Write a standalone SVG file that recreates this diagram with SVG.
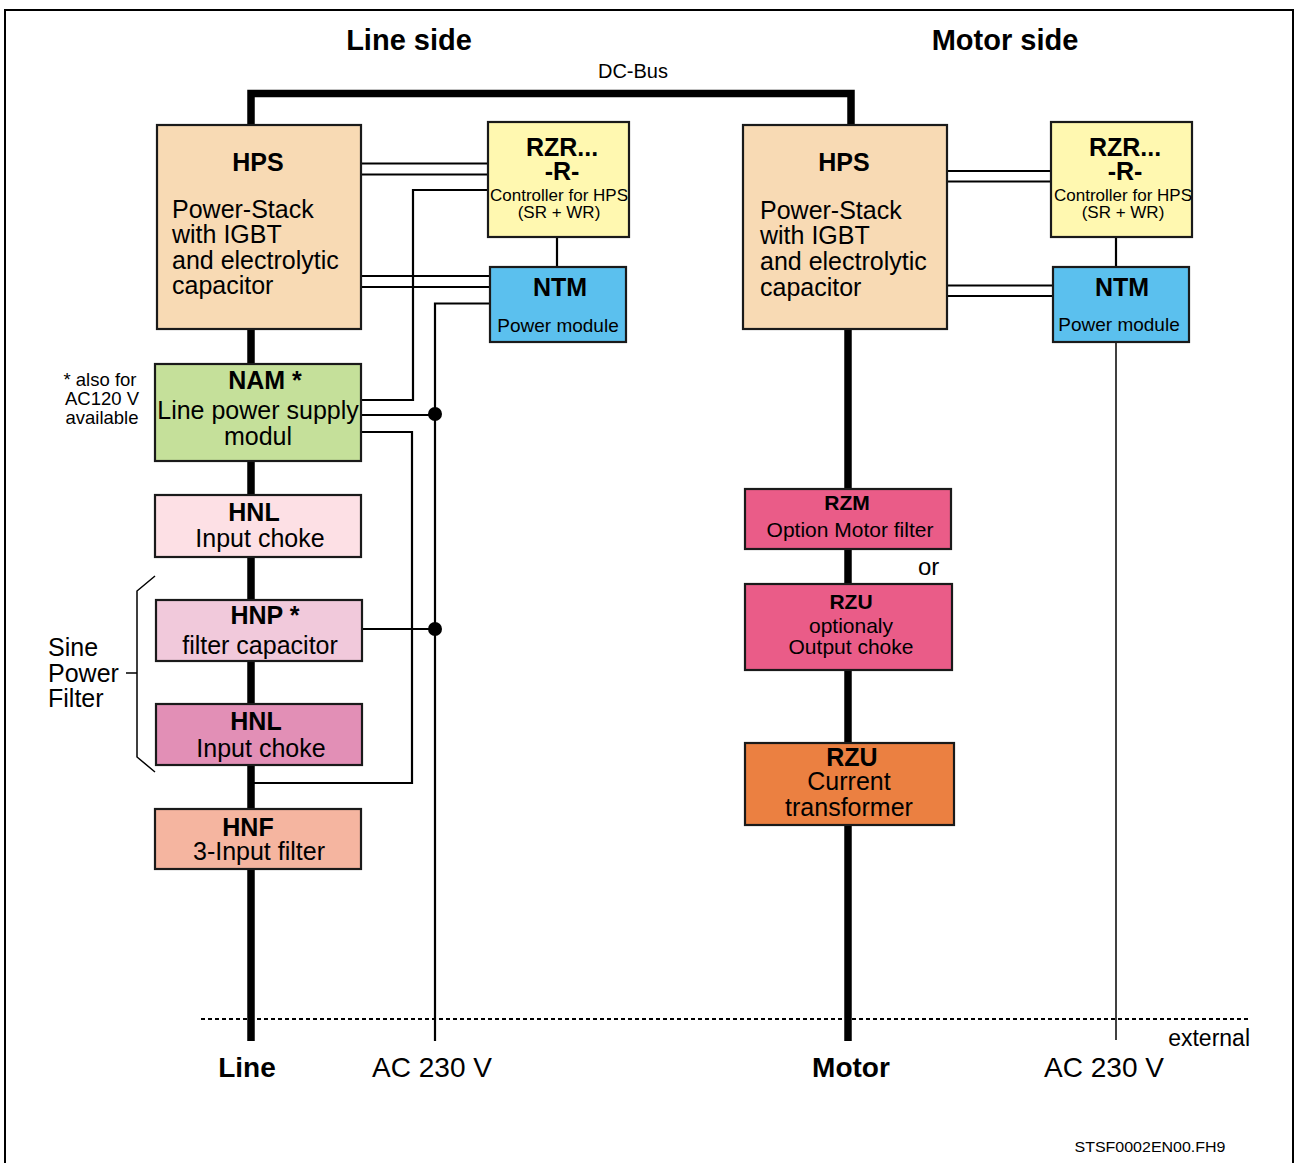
<svg xmlns="http://www.w3.org/2000/svg" width="1295" height="1163" viewBox="0 0 1295 1163">
<style>
text{font-family:"Liberation Sans",Arial,sans-serif;fill:#000}
.b{font-weight:bold}
.m{text-anchor:middle}
.box{stroke:#1a1a1a;stroke-width:2.2}
.bus{stroke:#000;stroke-width:7.5;fill:none}
.w{stroke:#000;stroke-width:2.2;fill:none}
.t{stroke:#000;stroke-width:1.5;fill:none}
</style>
<rect width="1295" height="1163" fill="#fff"/>
<rect x="5" y="10" width="1288" height="1180" fill="none" stroke="#000" stroke-width="2"/>
<text x="409" y="50" class="b m" font-size="29">Line side</text>
<text x="1005" y="50" class="b m" font-size="29">Motor side</text>
<text x="633" y="78" class="m" font-size="20">DC-Bus</text>

<g id="connectors">
<path class="bus" d="M251,1041 V93.5 H851 V125"/>
<path class="bus" d="M848,329 V1041"/>
<line x1="201" y1="1019" x2="1250" y2="1019" stroke="#000" stroke-width="2" stroke-dasharray="4 3"/>
<!-- left HPS - RZR -->
<path class="w" d="M361,163.5 H488 M361,174.5 H488"/>
<path class="w" d="M361,276 H490 M361,287 H490"/>
<path class="w" d="M488,190 H413 V400 H361"/>
<path class="w" d="M490,303.5 H435 V1041"/>
<path class="w" d="M361,415 H435"/>
<path class="w" d="M361,432 H412 V783 H253"/>
<path class="w" d="M362,629 H435"/>
<path class="w" d="M557,237 V267"/>
<circle cx="435" cy="414" r="7"/>
<circle cx="435" cy="629" r="7"/>
<!-- right -->
<path class="w" d="M947,171 H1051 M947,181.5 H1051"/>
<path class="w" d="M947,285.5 H1053 M947,296 H1053"/>
<path class="w" d="M1116,237 V267"/>
<path class="t" d="M1116,342 V1040"/>
<!-- bracket -->
<path class="t" d="M155,576 L137,591 V757 L155,772 M126,673 H137" stroke-width="1.3"/>
</g>

<g id="hps-left">
<rect class="box" x="157" y="125" width="204" height="204" fill="#F8DAB4"/>
<text x="258" y="171" class="b m" font-size="25">HPS</text>
<text x="172" y="218" font-size="25">Power-Stack</text>
<text x="172" y="243" font-size="25">with IGBT</text>
<text x="172" y="269" font-size="25">and electrolytic</text>
<text x="172" y="294" font-size="25">capacitor</text>
</g>
<g id="rzr-left">
<rect class="box" x="488" y="122" width="141" height="115" fill="#FFF8B0"/>
<text x="562" y="156" class="b m" font-size="25">RZR...</text>
<text x="562" y="180" class="b m" font-size="25">-R-</text>
<text x="559" y="201" class="m" font-size="17">Controller for HPS</text>
<text x="559" y="218" class="m" font-size="17">(SR + WR)</text>
</g>
<g id="ntm-left">
<rect class="box" x="490" y="267" width="136" height="75" fill="#5BC0EE"/>
<text x="560" y="296" class="b m" font-size="25">NTM</text>
<text x="558" y="332" class="m" font-size="19">Power module</text>
</g>
<g id="hps-right">
<rect class="box" x="743" y="125" width="204" height="204" fill="#F8DAB4"/>
<text x="844" y="171" class="b m" font-size="25">HPS</text>
<text x="760" y="219" font-size="25">Power-Stack</text>
<text x="760" y="244" font-size="25">with IGBT</text>
<text x="760" y="270" font-size="25">and electrolytic</text>
<text x="760" y="296" font-size="25">capacitor</text>
</g>
<g id="rzr-right">
<rect class="box" x="1051" y="122" width="141" height="115" fill="#FFF8B0"/>
<text x="1125" y="156" class="b m" font-size="25">RZR...</text>
<text x="1125" y="180" class="b m" font-size="25">-R-</text>
<text x="1123" y="201" class="m" font-size="17">Controller for HPS</text>
<text x="1123" y="218" class="m" font-size="17">(SR + WR)</text>
</g>
<g id="ntm-right">
<rect class="box" x="1053" y="267" width="136" height="75" fill="#5BC0EE"/>
<text x="1122" y="296" class="b m" font-size="25">NTM</text>
<text x="1119" y="331" class="m" font-size="19">Power module</text>
</g>
<g id="nam">
<rect class="box" x="155" y="364" width="206" height="97" fill="#C5E09A"/>
<text x="265" y="389" class="b m" font-size="25">NAM *</text>
<text x="258" y="419" class="m" font-size="25">Line power supply</text>
<text x="258" y="445" class="m" font-size="25">modul</text>
</g>
<g id="note">
<text x="100" y="386" class="m" font-size="18.5">* also for</text>
<text x="102" y="405" class="m" font-size="18.5">AC120 V</text>
<text x="102" y="424" class="m" font-size="18.5">available</text>
</g>
<g id="hnl1">
<rect class="box" x="155" y="495" width="206" height="62" fill="#FDE0E5"/>
<text x="254" y="521" class="b m" font-size="25">HNL</text>
<text x="260" y="547" class="m" font-size="25">Input choke</text>
</g>
<g id="hnp">
<rect class="box" x="156" y="600" width="206" height="61" fill="#F1C9DB"/>
<text x="265" y="624" class="b m" font-size="25">HNP *</text>
<text x="260" y="654" class="m" font-size="25">filter capacitor</text>
</g>
<g id="hnl2">
<rect class="box" x="156" y="704" width="206" height="61" fill="#E28FB6"/>
<text x="256" y="730" class="b m" font-size="25">HNL</text>
<text x="261" y="757" class="m" font-size="25">Input choke</text>
</g>
<g id="hnf">
<rect class="box" x="155" y="809" width="206" height="60" fill="#F5B5A0"/>
<text x="248" y="836" class="b m" font-size="25">HNF</text>
<text x="259" y="860" class="m" font-size="25">3-Input filter</text>
</g>
<g id="sine">
<text x="48" y="656" font-size="25">Sine</text>
<text x="48" y="682" font-size="25">Power</text>
<text x="48" y="707" font-size="25">Filter</text>
</g>
<g id="rzm">
<rect class="box" x="745" y="489" width="206" height="60" fill="#EA5C88"/>
<text x="847" y="510" class="b m" font-size="21">RZM</text>
<text x="850" y="537" class="m" font-size="21">Option Motor filter</text>
</g>
<text x="918" y="575" font-size="24">or</text>
<g id="rzu1">
<rect class="box" x="745" y="584" width="207" height="86" fill="#EA5C88"/>
<text x="851" y="609" class="b m" font-size="21">RZU</text>
<text x="851" y="633" class="m" font-size="21">optionaly</text>
<text x="851" y="654" class="m" font-size="21">Output choke</text>
</g>
<g id="rzu2">
<rect class="box" x="745" y="743" width="209" height="82" fill="#EB8041"/>
<text x="852" y="766" class="b m" font-size="25">RZU</text>
<text x="849" y="790" class="m" font-size="25">Current</text>
<text x="849" y="816" class="m" font-size="25">transformer</text>
</g>
<g id="bottom">
<text x="247" y="1077" class="b m" font-size="28">Line</text>
<text x="432" y="1077" class="m" font-size="28">AC 230 V</text>
<text x="851" y="1077" class="b m" font-size="28">Motor</text>
<text x="1104" y="1077" class="m" font-size="28">AC 230 V</text>
<text x="1250" y="1046" font-size="23" text-anchor="end">external</text>
<text x="1150" y="1152" class="m" font-size="15" textLength="151" lengthAdjust="spacingAndGlyphs">STSF0002EN00.FH9</text>
</g>
</svg>
